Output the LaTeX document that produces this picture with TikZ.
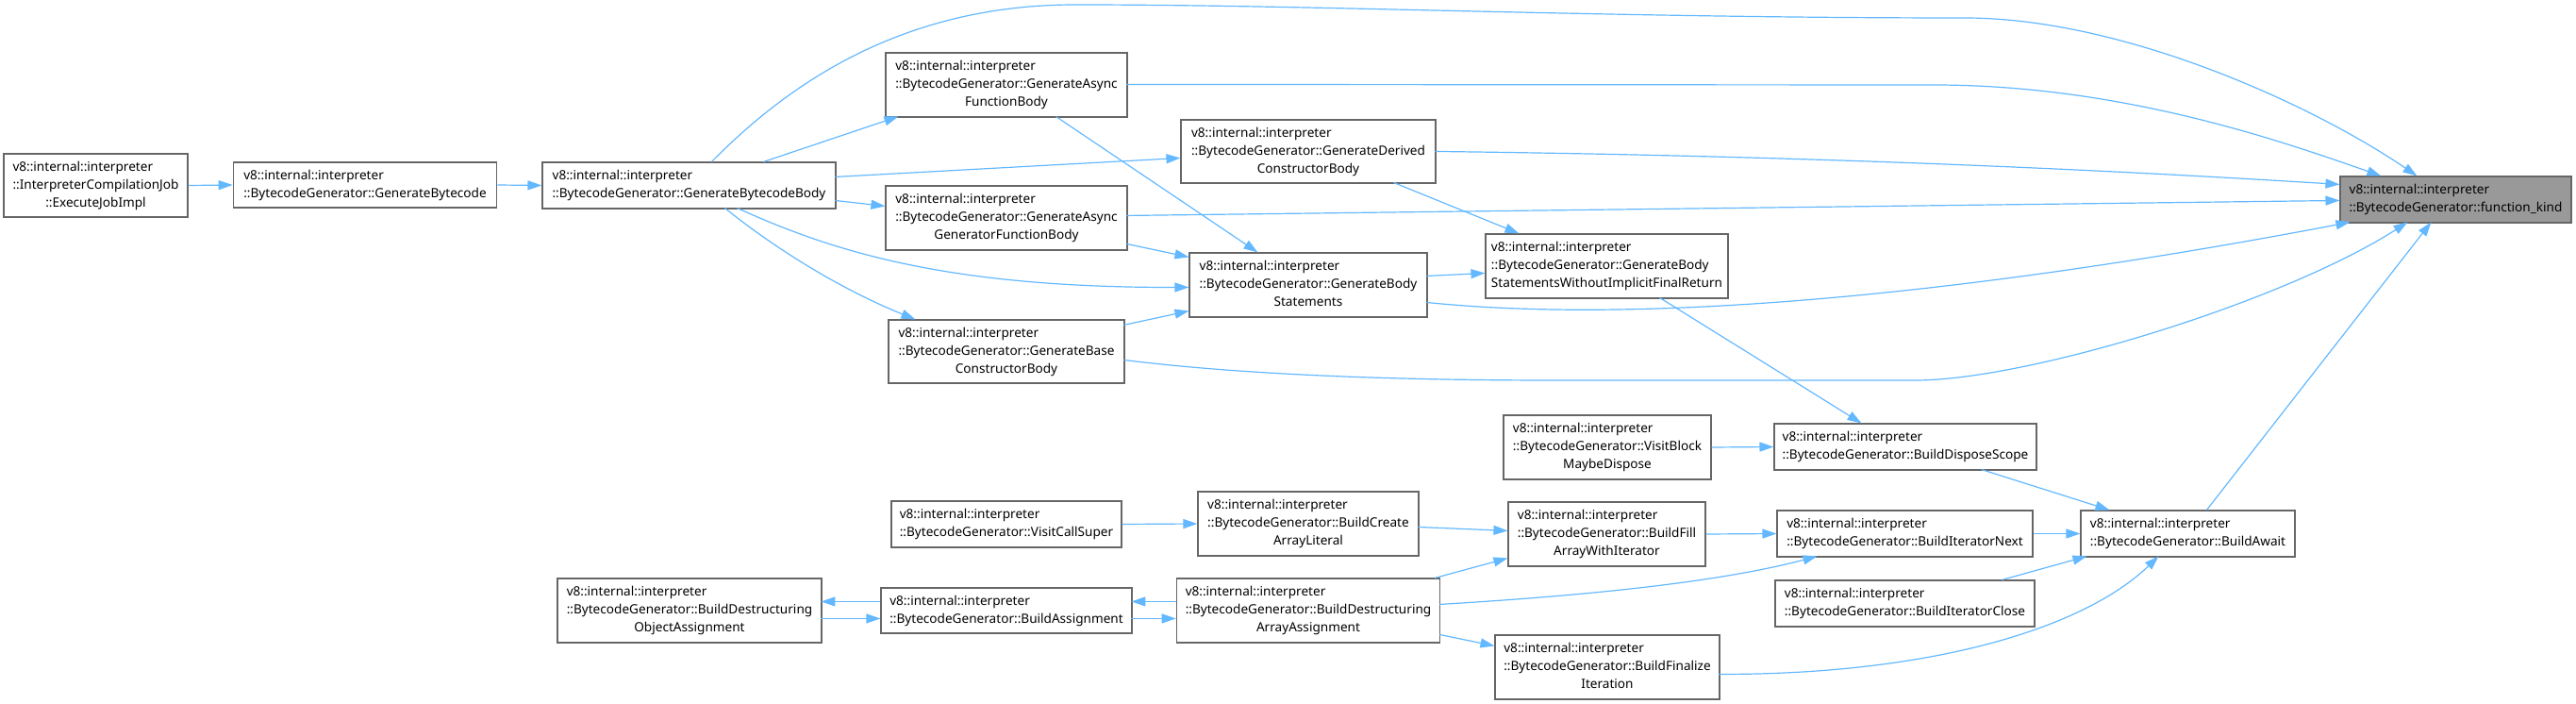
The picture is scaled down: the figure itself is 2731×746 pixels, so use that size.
\documentclass[tikz,border=0pt]{standalone}
\usepackage{fontspec}
\setmainfont{Noto Sans}
\usetikzlibrary{arrows.meta,calc}
\definecolor{edgec}{HTML}{63B8FF}
\definecolor{boxc}{HTML}{666666}
\definecolor{fkfill}{HTML}{999999}
\newcommand\nthree[3]{\begin{tabular}{@{}l@{}}#1\\#2\\\multicolumn{1}{@{}c@{}}{#3}\end{tabular}}
\newcommand\ntwo[2]{\begin{tabular}{@{}l@{}}#1\\\multicolumn{1}{@{}c@{}}{#2}\end{tabular}}
\newcommand\vii{v8::internal::interpreter}
\newcommand\bgx{::BytecodeGenerator::}
\begin{document}
\begin{tikzpicture}[x=1pt,y=-1pt,
  box/.style={draw=boxc, line width=1.1pt, fill=white, inner sep=0pt,
    font=\fontsize{13.6}{19}\selectfont},
  edge/.style={draw=edgec, line width=1.2pt, -{Triangle[length=15pt,width=10pt]}}]
\useasboundingbox (0,0) rectangle (2731,746);
% nodes
\node[box, minimum width=195pt, minimum height=67pt] (ejob) at (101.5,196.5) {\nthree{\vii}{::InterpreterCompilationJob}{::ExecuteJobImpl}};
\node[box, minimum width=279.5pt, minimum height=48pt] (gbc) at (387,196) {\ntwo{\vii}{\bgx GenerateBytecode}};
\node[box, minimum width=311pt, minimum height=49pt] (gbb) at (730.5,196.5) {\ntwo{\vii}{\bgx GenerateBytecodeBody}};
\node[box, minimum width=256pt, minimum height=68pt] (gafb) at (1067,90) {\nthree{\vii}{\bgx GenerateAsync}{FunctionBody}};
\node[box, minimum width=256pt, minimum height=68pt] (gagfb) at (1067,231) {\nthree{\vii}{\bgx GenerateAsync}{GeneratorFunctionBody}};
\node[box, minimum width=250pt, minimum height=67pt] (gbase) at (1067,372.5) {\nthree{\vii}{\bgx GenerateBase}{ConstructorBody}};
\node[box, minimum width=270pt, minimum height=67pt] (gdcb) at (1387,160.5) {\nthree{\vii}{\bgx GenerateDerived}{ConstructorBody}};
\node[box, minimum width=252pt, minimum height=68pt] (gbs) at (1387,302) {\nthree{\vii}{\bgx GenerateBody}{Statements}};
\node[box, minimum width=257pt, minimum height=68pt] (gbsw) at (1703.5,282) {\nthree{\vii}{\bgx GenerateBody}{StatementsWithoutImplicitFinalReturn}};
\node[box, fill=fkfill, minimum width=245pt, minimum height=49pt] (fk) at (2603.5,211.5) {\ntwo{\vii}{\bgx function\_kind}};
\node[box, minimum width=244pt, minimum height=49pt] (vcs) at (1067,555.5) {\ntwo{\vii}{\bgx VisitCallSuper}};
\node[box, minimum width=234pt, minimum height=68pt] (bcal) at (1387,555) {\nthree{\vii}{\bgx BuildCreate}{ArrayLiteral}};
\node[box, minimum width=280pt, minimum height=68pt] (bdoa) at (731,647) {\nthree{\vii}{\bgx BuildDestructuring}{ObjectAssignment}};
\node[box, minimum width=266pt, minimum height=48pt] (ba) at (1067,647) {\ntwo{\vii}{\bgx BuildAssignment}};
\node[box, minimum width=279.5pt, minimum height=68pt] (bdaa) at (1387,647) {\nthree{\vii}{\bgx BuildDestructuring}{ArrayAssignment}};
\node[box, minimum width=220pt, minimum height=68pt] (vbmd) at (1704,474) {\nthree{\vii}{\bgx VisitBlock}{MaybeDispose}};
\node[box, minimum width=278pt, minimum height=49pt] (bds) at (2020,473.5) {\ntwo{\vii}{\bgx BuildDisposeScope}};
\node[box, minimum width=209pt, minimum height=68pt] (bfawi) at (1703.5,566) {\nthree{\vii}{\bgx BuildFill}{ArrayWithIterator}};
\node[box, minimum width=271pt, minimum height=49pt] (bin) at (2019.5,565.5) {\ntwo{\vii}{\bgx BuildIteratorNext}};
\node[box, minimum width=275pt, minimum height=49pt] (bic) at (2019.5,639.5) {\ntwo{\vii}{\bgx BuildIteratorClose}};
\node[box, minimum width=227pt, minimum height=49pt] (baw) at (2319.5,565.5) {\ntwo{\vii}{\bgx BuildAwait}};
\node[box, minimum width=238pt, minimum height=68pt] (bfi) at (1704,707) {\nthree{\vii}{\bgx BuildFinalize}{Iteration}};
% edges
\draw[edge] (ejob.east) -- (gbc.west);
\draw[edge] (gbc.east) -- (gbb.west);
\draw[edge] ($(gbb.north west)+(180,0)$) .. controls (830,95) and (950,5) .. (1140,5)
  .. controls (1400,5) and (1700,19) .. (2083,19)
  .. controls (2250,19) and (2450,110) .. ($(fk.north west)+(82,0)$);
\draw[edge] ($(gbb.north west)+(235,0)$) -- ($(gafb.north west)+(14,68)$);
\draw[edge] ($(gbb.north west)+(311,16)$) -- ($(gdcb.north west)+(0,41)$);
\draw[edge] ($(gbb.north west)+(311,41)$) -- ($(gagfb.north west)+(0,22)$);
\draw[edge] ($(gbb.north west)+(207,49)$) .. controls (880,265) and (1000,305) .. ($(gbs.north west)+(0,37)$);
\draw[edge] ($(gbb.north west)+(194,49)$) .. controls (830,270) and (900,310) .. ($(gbase.north west)+(29,0)$);
\draw[edge] ($(gafb.north west)+(256,34)$) -- (2050,90) .. controls (2250,90) and (2420,150) .. ($(fk.north west)+(44,0)$);
\draw[edge] ($(gafb.north west)+(181,68)$) -- ($(gbs.north west)+(73,0)$);
\draw[edge] ($(gdcb.north west)+(270,34)$) .. controls (1900,165) and (2200,178) .. ($(fk.north west)+(0,9)$);
\draw[edge] ($(gdcb.north west)+(226,67)$) -- ($(gbsw.north west)+(36,0)$);
\draw[edge] ($(gagfb.north west)+(256,32)$) -- ($(fk.north west)+(0,26)$);
\draw[edge] ($(gagfb.north west)+(256,62)$) -- ($(gbs.north west)+(0,5)$);
\draw[edge] ($(gbase.north west)+(250,6)$) -- ($(gbs.north west)+(0,62)$);
\draw[edge] ($(gbase.north west)+(250,43)$) .. controls (1300,395) and (1450,403) .. (1650,403) -- (2030,403)
  .. controls (2150,403) and (2420,320) .. ($(fk.north west)+(72,49)$);
\draw[edge] ($(gbs.north west)+(252,25)$) -- ($(gbsw.north west)+(0,42)$);
\draw[edge] ($(gbs.north west)+(252,53)$) .. controls (1750,345) and (2100,310) .. ($(fk.north west)+(11,49)$);
\draw[edge] ($(gbsw.north west)+(185,68)$) -- ($(bds.north west)+(93,0)$);
\draw[edge] (vbmd.east) -- (bds.west);
\draw[edge] ($(bds.north west)+(220,49)$) -- ($(baw.north west)+(31,0)$);
\draw[edge] ($(baw.north west)+(134,0)$) -- ($(fk.north west)+(97,49)$);
\draw[edge] (bin.east) -- (baw.west);
\draw[edge] ($(bic.north west)+(241,0)$) -- ($(baw.north west)+(7,49)$);
\draw[edge] ($(bfi.north west)+(238,42)$) .. controls (2050,715) and (2210,665) .. ($(baw.north west)+(83,49)$);
\draw[edge] (bfawi.east) -- (bin.west);
\draw[edge] ($(bcal.north west)+(234,38)$) -- ($(bfawi.north west)+(0,31)$);
\draw[edge] (vcs.east) -- (bcal.west);
\draw[edge] ($(bdaa.north west)+(274.5,0)$) -- ($(bfawi.north west)+(0,60)$);
\draw[edge] ($(bdaa.north west)+(279.5,28)$) .. controls (1700,630) and (1830,615) .. ($(bin.north west)+(43,49)$);
\draw[edge] ($(bdaa.north west)+(279.5,60)$) -- ($(bfi.north west)+(0,12)$);
\draw[edge] ($(ba.north west)+(0,15)$) -- ($(bdoa.north west)+(280,25)$);
\draw[edge] ($(bdoa.north west)+(280,43)$) -- ($(ba.north west)+(0,33)$);
\draw[edge] ($(bdaa.north west)+(0,25)$) -- ($(ba.north west)+(266,15)$);
\draw[edge] ($(ba.north west)+(266,33)$) -- ($(bdaa.north west)+(0,43)$);
\end{tikzpicture}
\end{document}
